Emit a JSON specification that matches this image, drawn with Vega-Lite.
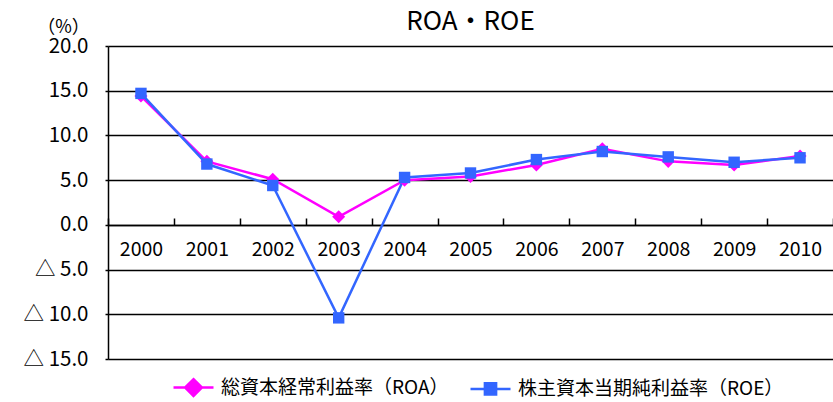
{
  "$schema": "https://vega.github.io/schema/vega-lite/v6.json",
  "autosize": {"type": "none"},
  "width": 725,
  "height": 313,
  "padding": {"left": 108, "top": 46, "right": 0, "bottom": 43},
  "background": "white",
  "title": {"text": "ROA・ROE", "fontSize": 26, "fontWeight": "normal", "font": "Noto Sans CJK JP", "color": "#000", "anchor": "middle", "offset": -17},
  "config": {
    "font": "Noto Sans CJK JP",
    "view": {"stroke": null}
  },
  "data": {"values": [
    {"year": "2000", "series": "総資本経常利益率（ROA）", "value": 14.4},
    {"year": "2001", "series": "総資本経常利益率（ROA）", "value": 7.1},
    {"year": "2002", "series": "総資本経常利益率（ROA）", "value": 5.1},
    {"year": "2003", "series": "総資本経常利益率（ROA）", "value": 0.9},
    {"year": "2004", "series": "総資本経常利益率（ROA）", "value": 5.0},
    {"year": "2005", "series": "総資本経常利益率（ROA）", "value": 5.4},
    {"year": "2006", "series": "総資本経常利益率（ROA）", "value": 6.7},
    {"year": "2007", "series": "総資本経常利益率（ROA）", "value": 8.5},
    {"year": "2008", "series": "総資本経常利益率（ROA）", "value": 7.1},
    {"year": "2009", "series": "総資本経常利益率（ROA）", "value": 6.7},
    {"year": "2010", "series": "総資本経常利益率（ROA）", "value": 7.7},
    {"year": "2000", "series": "株主資本当期純利益率（ROE）", "value": 14.7},
    {"year": "2001", "series": "株主資本当期純利益率（ROE）", "value": 6.8},
    {"year": "2002", "series": "株主資本当期純利益率（ROE）", "value": 4.4},
    {"year": "2003", "series": "株主資本当期純利益率（ROE）", "value": -10.4},
    {"year": "2004", "series": "株主資本当期純利益率（ROE）", "value": 5.3},
    {"year": "2005", "series": "株主資本当期純利益率（ROE）", "value": 5.8},
    {"year": "2006", "series": "株主資本当期純利益率（ROE）", "value": 7.3},
    {"year": "2007", "series": "株主資本当期純利益率（ROE）", "value": 8.2},
    {"year": "2008", "series": "株主資本当期純利益率（ROE）", "value": 7.6},
    {"year": "2009", "series": "株主資本当期純利益率（ROE）", "value": 7.0},
    {"year": "2010", "series": "株主資本当期純利益率（ROE）", "value": 7.5}
  ]},
  "encoding": {
    "x": {
      "field": "year", "type": "ordinal",
      "scale": {"type": "band", "paddingInner": 0, "paddingOuter": 0},
      "axis": {
        "title": null, "orient": "bottom", "offset": -134,
        "labelAngle": 0, "labelFontSize": 19.5, "labelColor": "#000",
        "domainColor": "#000", "domainWidth": 1.5,
        "tickColor": "#000", "tickWidth": 1.5, "tickSize": -7, "tickBand": "extent",
        "labelPadding": 22, "grid": false
      }
    },
    "y": {
      "field": "value", "type": "quantitative",
      "scale": {"domain": [-15, 20], "nice": false, "zero": false},
      "axis": {
        "values": [-15, -10, -5, 0, 5, 10, 15, 20],
        "labelExpr": "datum.value < 0 ? '△ ' + format(-datum.value, '.1f') : format(datum.value, '.1f')",
        "labelFontSize": 20.5, "labelColor": "#000", "labelPadding": 17,
        "title": "（%）", "titleAngle": 0, "titleFontSize": 18, "titleFontWeight": "normal", "titleColor": "#000",
        "titleX": -45, "titleY": -19, "titleAlign": "center", "titleBaseline": "middle",
        "grid": true, "gridColor": "#000", "gridWidth": 1.5,
        "domainColor": "#000", "domainWidth": 1.5,
        "tickColor": "#000", "tickSize": 3, "tickWidth": 1.5
      }
    },
    "color": {
      "field": "series", "type": "nominal",
      "scale": {"domain": ["総資本経常利益率（ROA）", "株主資本当期純利益率（ROE）"], "range": ["#FF00FF", "#3366FF"]},
      "legend": {
        "title": null, "orient": "none", "direction": "horizontal",
        "legendX": 64, "legendY": 320,
        "labelFontSize": 19, "labelColor": "#000", "labelOffset": 6, "labelLimit": 400,
        "columnPadding": 16, "symbolSize": 1600, "symbolStrokeWidth": 2.5,
        "encode": {"symbols": {"update": {
          "shape": {"signal": "datum.value === '総資本経常利益率（ROA）' ? 'M-1,0L1,0M0,-0.42L0.42,0L0,0.42L-0.42,0Z' : 'M-1,0L1,0M-0.28,-0.28L0.28,-0.28L0.28,0.28L-0.28,0.28Z'"},
          "stroke": {"signal": "datum.value === '総資本経常利益率（ROA）' ? '#FF00FF' : '#3366FF'"},
          "fill": {"signal": "datum.value === '総資本経常利益率（ROA）' ? '#FF00FF' : '#3366FF'"},
          "opacity": {"value": 1},
          "fillOpacity": {"value": 1},
          "strokeOpacity": {"value": 1}
        }}}
      }
    }
  },
  "layer": [
    {"mark": {"type": "line", "strokeWidth": 2.5}},
    {
      "transform": [{"filter": "datum.series === '総資本経常利益率（ROA）'"}],
      "mark": {"type": "point", "filled": true, "opacity": 1, "size": 170, "shape": "diamond"}
    },
    {
      "transform": [{"filter": "datum.series === '株主資本当期純利益率（ROE）'"}],
      "mark": {"type": "point", "filled": true, "opacity": 1, "size": 130, "shape": "square"}
    }
  ]
}
